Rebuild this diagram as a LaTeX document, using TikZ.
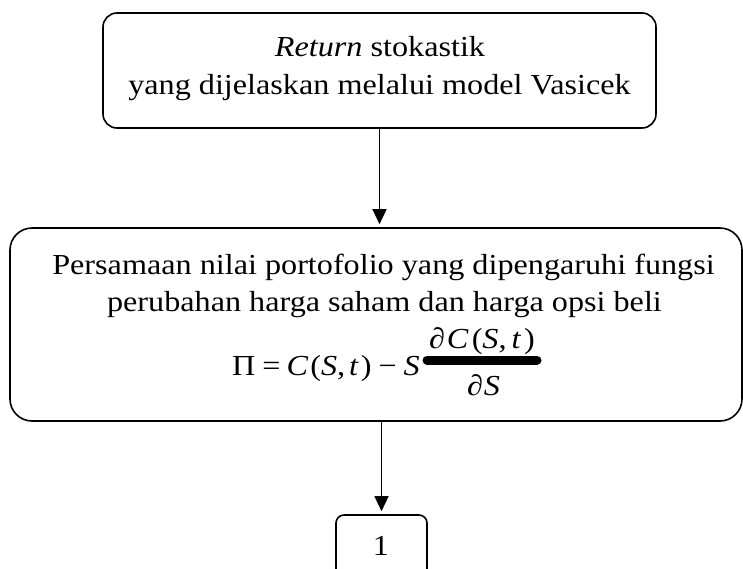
\documentclass[tikz,border=0pt]{standalone}
\usepackage{fontspec}
\setmainfont{Liberation Serif}[FakeStretch=1.11]
\usetikzlibrary{arrows.meta}
\newcommand{\bigfs}{\fontsize{29pt}{35pt}\selectfont}
\begin{document}
\begin{tikzpicture}[x=1pt,y=-1pt,
 box/.style={draw, line width=1.6pt, inner sep=0},
 txt/.style={inner sep=0, font=\bigfs, anchor=base},
 arr/.style={line width=1.3pt, -{Triangle[length=15pt,width=14pt]}, shorten >=3pt}]
\clip (0,0) rectangle (743,568);
\node[box, rounded corners=14pt, minimum width=553pt, minimum height=115pt] (top) at (379.5,70.5) {};
\node[box, rounded corners=22pt, minimum width=732pt, minimum height=193pt] (big) at (376,324.5) {};
\node[box, rounded corners=8pt, minimum width=91pt, minimum height=80pt] (one) at (381.5,555) {};
\node[txt] (t1) at (380,56) {\textit{Return} stokastik};
\node[txt] (t2) at (379.5,94) {yang dijelaskan melalui model Vasicek};
\node[txt] (b1) at (383.5,274) {Persamaan nilai portofolio yang dipengaruhi fungsi};
\node[txt] (b2) at (384.5,311) {perubahan harga saham dan harga opsi beli};
\node[txt, anchor=base west] (fl) at (232,375) {Π\kern7pt=\kern6pt\textit{C}\kern2pt(\textit{S},\kern4pt\textit{t}\kern2pt)\kern7pt−\kern7pt\textit{S}};
\node[txt] (fn) at (482,348) {∂\kern2pt\textit{C}\kern3pt(\textit{S},\kern5pt\textit{t}\kern3pt)};
\node[txt] (fd) at (483.5,395) {∂\kern1pt\textit{S}};
\draw[line width=9pt, line cap=round] (427,360) -- (537,360);
\node[txt] (n1) at (381,555) {1};
\draw[arr] (top.south) -- (top.south |- big.north);
\draw[arr] (big.south -| one.north) -- (one.north);
\end{tikzpicture}
\end{document}
